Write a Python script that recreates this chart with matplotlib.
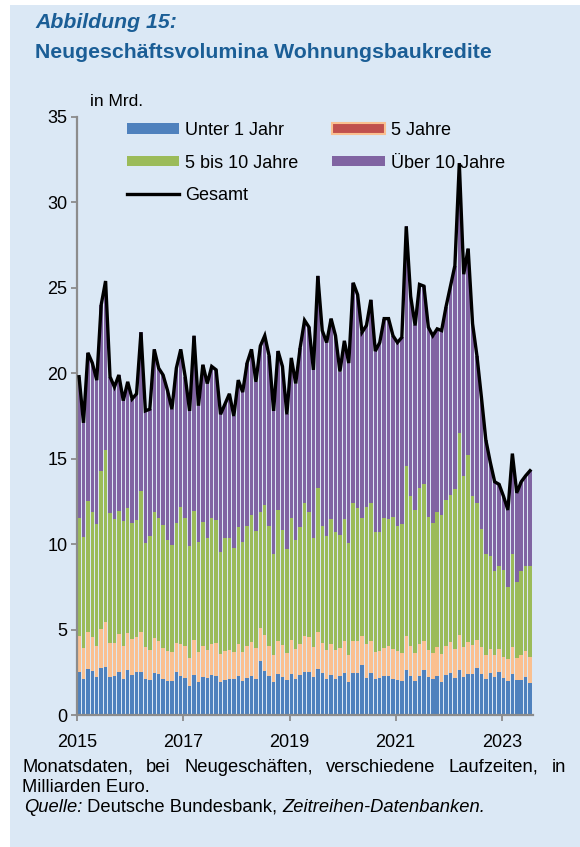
import matplotlib
matplotlib.use("Agg")
import matplotlib.pyplot as plt
import numpy as np
from matplotlib.patches import Rectangle, Patch
from matplotlib.lines import Line2D

# ---------------- data (monthly, Jan 2015 - Jul 2023, bn EUR) ----------------
unter_1 = [2.54, 2.11, 2.69, 2.57, 2.22, 2.73, 2.83, 2.22, 2.28, 2.52, 2.11, 2.63,
           2.34, 2.52, 2.54, 2.13, 2.05, 2.48, 2.40, 2.11, 1.97, 2.01, 2.54, 2.28,
           2.18, 1.70, 2.34, 1.93, 2.22, 2.17, 2.32, 2.26, 1.95, 2.05, 2.09, 2.09,
           2.28, 1.99, 2.18, 2.30, 2.11, 3.16, 2.60, 2.26, 1.91, 2.38, 2.22, 2.03,
           2.42, 2.11, 2.34, 2.52, 2.50, 2.20, 2.67, 2.44, 2.11, 2.36, 2.13, 2.30,
           2.46, 1.95, 2.44, 2.44, 2.93, 2.17, 2.46, 2.13, 2.17, 2.28, 2.28, 2.11,
           2.05, 2.01, 2.63, 2.28, 1.99, 2.28, 2.61, 2.22, 2.11, 2.28, 1.93, 2.32,
           2.44, 2.18, 2.63, 2.22, 2.40, 2.40, 2.75, 2.40, 2.11, 2.44, 2.24, 2.54,
           2.15, 2.01, 2.40, 2.03, 2.07, 2.22, 1.87]
jahre_1_5 = [2.08, 1.83, 2.19, 2.01, 1.84, 2.28, 2.59, 2.01, 1.91, 2.20, 1.95, 2.15,
             2.13, 2.06, 2.34, 1.87, 1.77, 2.01, 1.93, 1.79, 1.76, 1.68, 1.69, 1.87,
             1.88, 1.64, 2.03, 1.74, 1.82, 1.63, 1.82, 1.97, 1.64, 1.71, 1.71, 1.60,
             1.87, 1.72, 1.86, 1.95, 1.79, 1.95, 2.06, 1.80, 1.60, 1.95, 1.86, 1.58,
             1.99, 1.77, 1.83, 2.12, 2.08, 1.76, 2.17, 1.75, 1.67, 1.81, 1.65, 1.62,
             1.87, 1.56, 1.91, 1.89, 1.71, 2.00, 1.89, 1.58, 1.57, 1.64, 1.78, 1.75,
             1.68, 1.64, 2.01, 1.78, 1.62, 1.86, 1.72, 1.58, 1.54, 1.68, 1.64, 1.70,
             1.81, 1.66, 2.07, 1.78, 1.89, 1.72, 1.64, 1.58, 1.42, 1.44, 1.27, 1.32,
             1.26, 1.29, 1.56, 1.32, 1.42, 1.52, 1.54]
jahre_5_10 = [6.89, 6.46, 7.66, 7.28, 7.10, 9.27, 10.09, 7.57, 7.28, 7.22, 7.29, 7.31,
              6.78, 6.83, 8.23, 6.05, 6.65, 7.41, 7.20, 7.20, 6.51, 6.28, 6.99, 8.00,
              7.45, 6.55, 7.57, 6.45, 7.27, 6.56, 7.37, 7.18, 5.95, 6.61, 6.55, 6.06,
              6.83, 6.39, 7.02, 7.43, 6.87, 6.77, 7.65, 7.00, 5.91, 7.67, 6.74, 6.10,
              7.10, 6.36, 6.85, 7.75, 7.32, 6.42, 8.46, 6.87, 6.71, 7.30, 6.95, 6.61,
              7.12, 6.54, 8.04, 7.76, 6.87, 7.98, 8.04, 7.02, 6.99, 7.59, 7.39, 7.74,
              7.32, 7.55, 9.96, 8.74, 8.39, 9.16, 9.17, 7.80, 7.60, 7.94, 8.13, 8.58,
              8.65, 9.36, 11.80, 10.00, 10.91, 8.68, 8.01, 6.92, 5.92, 5.42, 4.89, 4.84,
              5.09, 4.20, 5.44, 4.45, 4.91, 4.96, 5.29]
ueber_10 = [8.29, 6.70, 8.66, 8.74, 8.44, 9.72, 9.89, 8.00, 7.73, 7.96, 7.05, 7.41,
            7.25, 7.39, 9.29, 7.75, 7.43, 9.50, 8.77, 8.80, 8.76, 7.93, 9.08, 9.25,
            8.29, 7.91, 10.26, 7.98, 9.19, 9.04, 8.89, 8.79, 8.06, 7.83, 8.45, 7.75,
            8.62, 8.80, 9.54, 9.72, 8.73, 9.72, 9.89, 9.94, 8.38, 9.30, 9.58, 7.89,
            9.39, 9.16, 10.48, 10.71, 10.80, 9.82, 12.40, 11.44, 11.31, 11.73, 11.47, 9.57,
            10.45, 10.55, 12.91, 12.51, 10.89, 10.65, 11.91, 10.57, 11.07, 11.69, 11.75, 10.60,
            10.75, 10.90, 14.00, 11.70, 10.80, 11.90, 11.60, 11.10, 10.95, 10.70, 10.80, 11.30,
            12.20, 13.10, 15.80, 11.80, 12.10, 10.10, 8.60, 7.70, 6.65, 5.50, 5.25, 4.80,
            4.30, 4.50, 5.90, 5.20, 5.25, 5.30, 5.60]
gesamt = [19.8, 17.1, 21.2, 20.6, 19.6, 24.0, 25.4, 19.8, 19.2, 19.9, 18.4, 19.5,
          18.5, 18.8, 22.4, 17.8, 17.9, 21.4, 20.3, 19.9, 19.0, 17.9, 20.3, 21.4,
          19.8, 17.8, 22.2, 18.1, 20.5, 19.4, 20.4, 20.2, 17.6, 18.2, 18.8, 17.5,
          19.6, 18.9, 20.6, 21.4, 19.5, 21.6, 22.2, 21.0, 17.8, 21.3, 20.4, 17.6,
          20.9, 19.4, 21.5, 23.1, 22.7, 20.2, 25.7, 22.5, 21.8, 23.2, 22.2, 20.1,
          21.9, 20.6, 25.3, 24.6, 22.4, 22.8, 24.3, 21.3, 21.8, 23.2, 23.2, 22.2,
          21.8, 22.1, 28.6, 24.5, 22.8, 25.2, 25.1, 22.7, 22.2, 22.6, 22.5, 23.9,
          25.1, 26.3, 32.3, 25.8, 27.3, 22.9, 21.0, 18.6, 16.1, 14.8, 13.65, 13.5,
          12.8, 12.0, 15.3, 13.0, 13.65, 14.0, 14.3]
year_labels = ["2015", "2017", "2019", "2021", "2023"]
year_tick_month = [0, 24, 48, 72, 96]
series_labels = ["Unter 1 Jahr", "5 Jahre", "5 bis 10 Jahre", "Über 10 Jahre", "Gesamt"]

# ---------------- style ----------------
FONT = ["Liberation Sans", "DejaVu Sans"]
plt.rcParams["font.family"] = FONT
BG = "#DBE8F5"
TITLE_C = "#1B5E96"
C_BLUE, C_ORANGE, C_GREEN, C_PURPLE = "#4F81BD", "#FAC090", "#9BBB59", "#8064A2"
GRAY = "#8C8C8C"

W, H = 580, 847
fig = plt.figure(figsize=(W / 100, H / 100), dpi=100, facecolor="white")
fig.patches.append(Rectangle((10 / W, 0), (W - 10) / W, (H - 5) / H,
                             transform=fig.transFigure, facecolor=BG,
                             edgecolor="none", zorder=-10))

def fx(px):
    return px / W

def fy(py):
    return 1 - py / H

# titles
fig.text(fx(35), fy(23), "Abbildung 15:", fontsize=15.3, fontweight="bold",
         fontstyle="italic", color=TITLE_C, va="center", ha="left")
fig.text(fx(35), fy(53), "Neugeschäftsvolumina Wohnungsbaukredite", fontsize=15.3,
         fontweight="bold", color=TITLE_C, va="center", ha="left")

# axes
ax_left, ax_right, ax_top, ax_bot = 77.3, 532.7, 117, 715
ax = fig.add_axes([fx(ax_left), fy(ax_bot), (ax_right - ax_left) / W, (ax_bot - ax_top) / H])
ax.set_facecolor("none")

x = np.arange(len(gesamt))
b0 = np.zeros(len(x))
bw = 0.78
layers = [(unter_1, C_BLUE), (jahre_1_5, C_ORANGE), (jahre_5_10, C_GREEN), (ueber_10, C_PURPLE)]
for vals, col in layers:
    v = np.array(vals)
    ax.bar(x, v, bottom=b0, width=bw, color=col, linewidth=0, zorder=2)
    b0 = b0 + v
ax.plot(x, gesamt, color="black", lw=2.4, zorder=3, solid_joinstyle="miter")

ax.set_xlim(-0.4, 102.6)
ax.set_ylim(0, 35)
ax.set_yticks(np.arange(0, 36, 5))
ax.set_xticks(np.array(year_tick_month) - 0.4)
ax.set_xticklabels(year_labels)
for s in ["top", "right"]:
    ax.spines[s].set_visible(False)
for s in ["left", "bottom"]:
    ax.spines[s].set_color(GRAY)
    ax.spines[s].set_linewidth(1.6)
ax.tick_params(axis="y", direction="out", length=4, width=1.3, color=GRAY,
               labelsize=13, pad=3)
ax.tick_params(axis="x", direction="out", length=4, width=1.3, color=GRAY,
               labelsize=13, pad=10)

fig.text(fx(90), fy(101), "in Mrd.", fontsize=12.5, va="center", ha="left")

# legend
handles = [Patch(facecolor=C_BLUE, edgecolor="none"),
           Patch(facecolor=C_GREEN, edgecolor="none"),
           Line2D([], [], color="black", lw=2.4),
           Patch(facecolor="#C0504D", edgecolor=C_ORANGE, linewidth=1.5),
           Patch(facecolor=C_PURPLE, edgecolor="none")]
labels = [series_labels[0], series_labels[2], series_labels[4], series_labels[1], series_labels[3]]
ax.legend(handles, labels, ncol=2, loc="upper left",
          bbox_to_anchor=(fx(126.7), fy(122)), bbox_transform=fig.transFigure,
          frameon=False, fontsize=13, handlelength=2.9, handleheight=0.5,
          handletextpad=0.35, columnspacing=1.87, labelspacing=0.86,
          borderpad=0, borderaxespad=0)

# footnotes
fig.canvas.draw()
renderer = fig.canvas.get_renderer()
FS = 13.2
line1 = "Monatsdaten, bei Neugeschäften, verschiedene Laufzeiten, in".split()
x0, x1 = 22, 566
tw = []
for w in line1:
    t = fig.text(0.5, 0.5, w, fontsize=FS)
    tw.append(t.get_window_extent(renderer).width)
    t.remove()
gap = (x1 - x0 - sum(tw)) / (len(line1) - 1)
cx = x0
for w, wd in zip(line1, tw):
    fig.text(fx(cx), fy(767), w, fontsize=FS, va="center", ha="left")
    cx += wd + gap
fig.text(fx(22), fy(787), "Milliarden Euro.", fontsize=FS, va="center", ha="left")

parts = [("Quelle:", "italic"), (" Deutsche Bundesbank, ", "normal"),
         ("Zeitreihen-Datenbanken.", "italic")]
cx = 24
for txt, st in parts:
    t = fig.text(fx(cx), fy(807), txt, fontsize=FS, fontstyle=st, va="center", ha="left")
    cx += t.get_window_extent(renderer).width

fig.savefig("out.png", dpi=100, facecolor="white")
